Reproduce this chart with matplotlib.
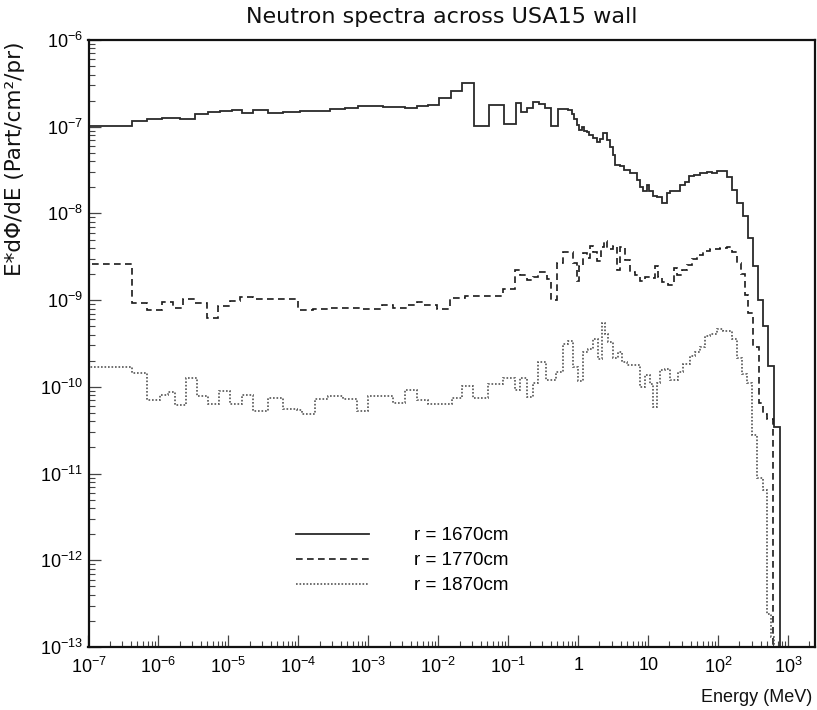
import numpy as np
import matplotlib
matplotlib.use("Agg")
import matplotlib.pyplot as plt
from matplotlib.ticker import FixedLocator, FuncFormatter, NullFormatter
from matplotlib.lines import Line2D

# ---------------- data ----------------
title = "Neutron spectra across USA15 wall"
x_label = "Energy (MeV)"
y_label = "E*dΦ/dE (Part/cm²/pr)"
series_labels = ["r = 1670cm", "r = 1770cm", "r = 1870cm"]

# bin edges given as log10(E / MeV)
edges_1670_log = [-7.000, -6.383, -6.169, -5.954, -5.693, -5.479, -5.289, -5.121, -4.954, -4.811,
                  -4.646, -4.431, -4.217, -3.979, -3.550, -3.336, -3.146, -2.789, -2.479, -2.311,
                  -2.146, -1.989, -1.826, -1.657, -1.490, -1.279, -1.064, -0.897, -0.826, -0.740,
                  -0.646, -0.560, -0.479, -0.393, -0.297, -0.146, -0.097, -0.064, -0.026, 0.011,
                  0.046, 0.079, 0.117, 0.154, 0.211, 0.260, 0.307, 0.346, 0.403, 0.450,
                  0.489, 0.526, 0.593, 0.650, 0.736, 0.831, 0.879, 0.917, 0.974, 1.011,
                  1.060, 1.126, 1.189, 1.260, 1.307, 1.379, 1.450, 1.521, 1.583, 1.650,
                  1.736, 1.831, 1.903, 1.974, 2.117, 2.189, 2.260, 2.346, 2.426, 2.497,
                  2.569, 2.640, 2.711, 2.793, 2.879]
flux_1670 = [1.02e-7, 1.16e-7, 1.24e-7, 1.27e-7, 1.23e-7, 1.40e-7, 1.47e-7, 1.51e-7, 1.54e-7, 1.44e-7,
             1.56e-7, 1.43e-7, 1.49e-7, 1.53e-7, 1.58e-7, 1.64e-7, 1.72e-7, 1.69e-7, 1.66e-7, 1.73e-7,
             1.80e-7, 2.16e-7, 2.56e-7, 3.23e-7, 1.03e-7, 1.78e-7, 1.07e-7, 1.90e-7, 1.49e-7, 1.66e-7,
             1.91e-7, 1.84e-7, 1.66e-7, 1.03e-7, 1.62e-7, 1.56e-7, 1.39e-7, 1.22e-7, 1.05e-7, 9.1e-8,
             9.8e-8, 8.9e-8, 8.6e-8, 8.0e-8, 7.5e-8, 6.7e-8, 7.3e-8, 8.5e-8, 7.0e-8, 5.8e-8,
             4.7e-8, 3.6e-8, 3.5e-8, 3.2e-8, 2.9e-8, 2.4e-8, 2.0e-8, 1.8e-8, 2.1e-8, 1.8e-8,
             1.6e-8, 1.54e-8, 1.33e-8, 1.7e-8, 1.8e-8, 1.83e-8, 2.1e-8, 2.3e-8, 2.7e-8, 2.8e-8,
             2.9e-8, 3.0e-8, 2.9e-8, 3.1e-8, 2.6e-8, 1.86e-8, 1.33e-8, 9.3e-9, 5.2e-9, 2.5e-9,
             1.0e-9, 5.0e-10, 1.75e-10, 3.46e-11]

edges_1770_log = [-7.000, -6.383, -6.169, -5.954, -5.789, -5.646, -5.479, -5.311, -5.146, -4.979,
                  -4.836, -4.646, -4.003, -3.789, -3.574, -3.311, -3.121, -2.811, -2.646, -2.454,
                  -2.311, -2.217, -2.026, -1.836, -1.621, -1.074, -0.907, -0.836, -0.740, -0.654,
                  -0.574, -0.454, -0.393, -0.303, -0.217, -0.074, -0.026, 0.011, 0.060, 0.117,
                  0.164, 0.211, 0.260, 0.317, 0.364, 0.403, 0.489, 0.546, 0.593, 0.664,
                  0.736, 0.807, 0.879, 0.950, 1.021, 1.093, 1.140, 1.189, 1.283, 1.364,
                  1.403, 1.474, 1.546, 1.617, 1.689, 1.783, 1.879, 2.021, 2.117, 2.189,
                  2.260, 2.317, 2.379, 2.426, 2.497, 2.583, 2.640, 2.693, 2.783]
flux_1770 = [2.58e-9, 9.3e-10, 7.7e-10, 9.4e-10, 8.15e-10, 1.03e-9, 9.2e-10, 6.3e-10, 8.5e-10, 9.8e-10,
             1.08e-9, 1.03e-9, 7.7e-10, 8.0e-10, 8.2e-10, 8.15e-10, 8.0e-10, 8.7e-10, 8.2e-10, 8.7e-10,
             9.6e-10, 8.8e-10, 8.0e-10, 1.05e-9, 1.12e-9, 1.36e-9, 2.2e-9, 1.95e-9, 1.72e-9, 1.83e-9,
             2.1e-9, 1.75e-9, 1.0e-9, 2.7e-9, 3.6e-9, 2.65e-9, 1.68e-9, 2.45e-9, 3.5e-9, 3.1e-9,
             4.2e-9, 3.6e-9, 2.8e-9, 4.1e-9, 4.8e-9, 3.9e-9, 4.2e-9, 2.2e-9, 4.1e-9, 2.9e-9,
             2.1e-9, 1.95e-9, 1.68e-9, 1.85e-9, 1.8e-9, 2.45e-9, 1.85e-9, 1.6e-9, 1.5e-9, 2.35e-9,
             1.95e-9, 2.2e-9, 2.55e-9, 2.95e-9, 3.3e-9, 3.7e-9, 3.9e-9, 3.95e-9, 4.1e-9, 3.6e-9,
             2.7e-9, 2.0e-9, 1.15e-9, 7.1e-10, 2.9e-10, 6.6e-11, 4.9e-11, 4.3e-11]

edges_1870_log = [-7.000, -6.383, -6.169, -5.979, -5.860, -5.764, -5.607, -5.454, -5.289, -5.131,
                  -4.979, -4.811, -4.646, -4.431, -4.217, -4.026, -3.954, -3.764, -3.574, -3.360,
                  -3.169, -3.003, -2.646, -2.479, -2.311, -2.146, -2.026, -1.811, -1.669, -1.503,
                  -1.289, -1.074, -0.907, -0.836, -0.740, -0.654, -0.574, -0.464, -0.321, -0.217,
                  -0.146, -0.074, -0.003, 0.069, 0.140, 0.211, 0.283, 0.331, 0.379, 0.426,
                  0.497, 0.569, 0.617, 0.689, 0.783, 0.879, 0.950, 1.021, 1.069, 1.117,
                  1.164, 1.236, 1.307, 1.426, 1.497, 1.593, 1.664, 1.736, 1.807, 1.879,
                  1.974, 2.069, 2.189, 2.260, 2.331, 2.403, 2.479, 2.550, 2.640, 2.693,
                  2.750, 2.793]
flux_1870 = [1.70e-10, 1.46e-10, 7.0e-11, 8.0e-11, 8.75e-11, 6.15e-11, 1.25e-10, 7.9e-11, 6.4e-11, 8.9e-11,
             6.4e-11, 8.0e-11, 5.25e-11, 7.35e-11, 5.6e-11, 5.4e-11, 4.9e-11, 7.2e-11, 7.9e-11, 7.2e-11,
             5.25e-11, 7.85e-11, 6.55e-11, 9.2e-11, 7.0e-11, 6.3e-11, 6.4e-11, 7.35e-11, 1.03e-10, 7.35e-11,
             1.08e-10, 1.25e-10, 9.1e-11, 1.25e-10, 7.7e-11, 1.1e-10, 1.95e-10, 1.2e-10, 1.49e-10, 3.16e-10,
             3.4e-10, 1.7e-10, 1.17e-10, 2.5e-10, 2.7e-10, 3.6e-10, 2.1e-10, 5.4e-10, 4.1e-10, 3.3e-10,
             2.15e-10, 2.5e-10, 1.95e-10, 1.78e-10, 1.8e-10, 1.0e-10, 1.37e-10, 1.08e-10, 5.8e-11, 1.12e-10,
             1.56e-10, 1.62e-10, 1.2e-10, 1.49e-10, 1.85e-10, 2.25e-10, 2.5e-10, 2.9e-10, 3.9e-10, 4.1e-10,
             4.6e-10, 4.4e-10, 3.6e-10, 2.15e-10, 1.4e-10, 1.12e-10, 2.8e-11, 8.8e-12, 6.4e-12, 2.4e-13,
             1.3e-13]

x_range = (1e-7, 2.4e3)
y_range = (1e-13, 1e-6)
x_tick_exponents = list(range(-7, 4))
y_tick_exponents = list(range(-13, -5))

# ---------------- figure ----------------
plt.rcParams['font.family'] = ['Liberation Sans', 'DejaVu Sans']
plt.rcParams['mathtext.default'] = 'regular'

W, H = 817, 710
fig = plt.figure(figsize=(W / 100, H / 100), dpi=100)
ax = fig.add_axes([88.5 / W, 1 - 647 / H, (815 - 88.5) / W, (647 - 40) / H])

styles = [
    dict(color='#2a2a2a', linewidth=1.3, linestyle='-'),
    dict(color='#1a1a1a', linewidth=1.2, linestyle=(0, (4, 2.6))),
    dict(color='#555555', linewidth=1.2, linestyle=(0, (1, 1.1))),
]
data = [(edges_1670_log, flux_1670), (edges_1770_log, flux_1770), (edges_1870_log, flux_1870)]
handles = []
for (e_log, f), st, lab in zip(data, styles, series_labels):
    edges = 10.0 ** np.asarray(e_log)
    ax.stairs(np.asarray(f), edges, baseline=1e-15, fill=False, **st)
    handles.append(Line2D([], [], label=lab, **st))

ax.set_xscale('log')
ax.set_yscale('log')
ax.set_xlim(*x_range)
ax.set_ylim(*y_range)


def minor_positions(lo, hi):
    out = []
    for e in range(int(np.floor(np.log10(lo))), int(np.ceil(np.log10(hi))) + 1):
        for m in range(2, 10):
            v = m * 10.0 ** e
            if lo < v < hi:
                out.append(v)
    return out


ax.xaxis.set_major_locator(FixedLocator([10.0 ** e for e in x_tick_exponents]))
ax.yaxis.set_major_locator(FixedLocator([10.0 ** e for e in y_tick_exponents]))
ax.xaxis.set_minor_locator(FixedLocator(minor_positions(*x_range)))
ax.yaxis.set_minor_locator(FixedLocator(minor_positions(*y_range)))


def xfmt(v, pos):
    e = int(round(np.log10(v)))
    if e == 0:
        return '1'
    if e == 1:
        return '10'
    return r'$10^{%d}$' % e


def yfmt(v, pos):
    e = int(round(np.log10(v)))
    return r'$10^{%d}$' % e


ax.xaxis.set_major_formatter(FuncFormatter(xfmt))
ax.yaxis.set_major_formatter(FuncFormatter(yfmt))
ax.xaxis.set_minor_formatter(NullFormatter())
ax.yaxis.set_minor_formatter(NullFormatter())

ax.tick_params(which='both', direction='in', top=False, right=False, color='#444444')
ax.tick_params(which='major', length=8.5, width=0.9, labelsize=13, pad=4)
ax.tick_params(axis='x', which='major', pad=7)
ax.tick_params(which='minor', length=4.3, width=0.8)
for sp in ax.spines.values():
    sp.set_linewidth(1.6)
    sp.set_color('#111111')
    sp.set_zorder(5)

fig.text(442 / W, 1 - 17 / H, title, ha='center', va='center', fontsize=16,
         family=['DejaVu Sans'], color='#111111')
fig.text(812 / W, 1 - 698 / H, x_label, ha='right', va='center', fontsize=13, color='#111111')
fig.text(15 / W, 1 - 42 / H, y_label, ha='center', va='top', rotation=90, fontsize=15.5,
         family=['DejaVu Sans'], color='#111111')

leg = ax.legend(handles=handles, loc='upper left', bbox_to_anchor=(296 / W, 1 - 527 / H),
                bbox_transform=fig.transFigure, frameon=False, fontsize=13.5,
                handlelength=3.9, handletextpad=2.4, labelspacing=0.42, borderpad=0,
                borderaxespad=0)

fig.savefig('out.png', dpi=100)
